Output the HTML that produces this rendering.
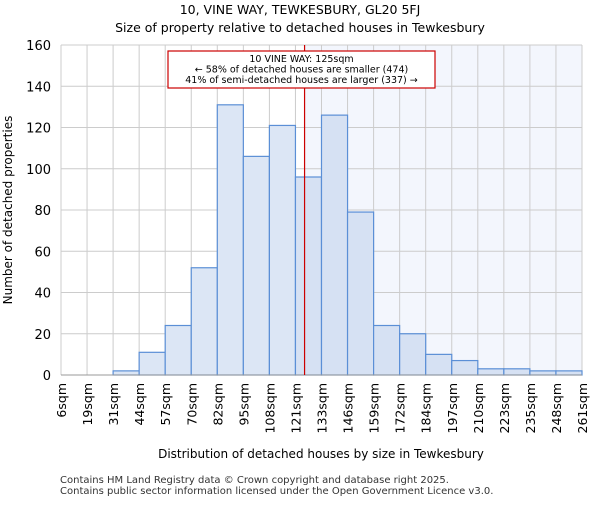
<!DOCTYPE html>
<html><head><meta charset="utf-8"><style>body{margin:0;background:#fff}svg{font-family:"DejaVu Sans","Liberation Sans",sans-serif}</style></head>
<body>
<svg id="chart" width="600" height="500" viewBox="0 0 600 500">
<text x="300" y="14" text-anchor="middle" font-size="12.5">10, VINE WAY, TEWKESBURY, GL20 5FJ</text>
<text x="300" y="32" text-anchor="middle" font-size="12.5">Size of property relative to detached houses in Tewkesbury</text>
<g id="plot"></g>
<text x="321" y="458" text-anchor="middle" font-size="12">Distribution of detached houses by size in Tewkesbury</text>
<text transform="translate(12,210) rotate(-90)" text-anchor="middle" font-size="12">Number of detached properties</text>
<text x="60" y="483" font-size="10" fill="#333">Contains HM Land Registry data © Crown copyright and database right 2025.</text>
<text x="60" y="494" font-size="10" fill="#333">Contains public sector information licensed under the Open Government Licence v3.0.</text>
</svg>
<script>
const tickLabels=["6sqm","19sqm","31sqm","44sqm","57sqm","70sqm","82sqm","95sqm","108sqm","121sqm","133sqm","146sqm","159sqm","172sqm","184sqm","197sqm","210sqm","223sqm","235sqm","248sqm","261sqm"];
const counts=[0,0,2,11,24,52,131,106,121,96,126,79,24,20,10,7,3,3,2,2];
const yTicks=[0,20,40,60,80,100,120,140,160];
const subjectBinPos=9.35;
const x0=61,x1=582,yTop=45,yBot=375,yMax=160;
const bw=(x1-x0)/counts.length;
const xs=i=>x0+i*bw;
const ys=v=>yBot-v/yMax*(yBot-yTop);
const NS="http://www.w3.org/2000/svg";
const g=document.getElementById('plot');
function mk(t,a,p){const e=document.createElementNS(NS,t);for(const k in a)e.setAttribute(k,a[k]);(p||g).appendChild(e);return e;}
const lx=xs(subjectBinPos);
let sh=mk('rect',{x:lx,y:yTop,width:x1-lx,height:yBot-yTop,fill:'#f3f6fd'});


yTicks.forEach(v=>{
 let l=mk('line',{x1:x0,x2:x1,y1:ys(v),y2:ys(v),stroke:'#cccccc'});
 
 
 let t=mk('text',{x:x0-10,y:ys(v)+5,'text-anchor':'end','font-size':'13'});
 t.textContent=v;
 
 
});
tickLabels.forEach((s,i)=>{
 let l=mk('line',{x1:xs(i),x2:xs(i),y1:yTop,y2:yBot,stroke:'#cccccc'});
 
 
 let t=mk('text',{transform:`translate(${xs(i)+5},${yBot+8}) rotate(-90)`,'text-anchor':'end','font-size':'12.5'});
 t.textContent=s;
 
 
});
counts.forEach((c,i)=>{
 if(c<=0)return;
 let r=mk('rect',{x:xs(i),y:ys(c),width:bw,height:yBot-ys(c),fill:i>=9?'#d6e1f3':'#dce6f5',stroke:'#5b8fd6','stroke-width':1.2});
 
 
});
let ax=mk('line',{x1:x0,x2:x1,y1:yBot,y2:yBot,stroke:'#999'});


let rl=mk('line',{x1:lx,x2:lx,y1:yTop,y2:yBot,stroke:'#cc0000','stroke-width':1.2});


let box=mk('rect',{x:168,y:51,width:267,height:37,fill:'#fff',stroke:'#cc0000','stroke-width':1.2});


["10 VINE WAY: 125sqm","← 58% of detached houses are smaller (474)","41% of semi-detached houses are larger (337) →"].forEach((s,i)=>{
 let t=mk('text',{x:301.5,y:62+i*10.5,'text-anchor':'middle','font-size':'9.5'});
 t.textContent=s;
 
 
});
</script>
</body></html>
